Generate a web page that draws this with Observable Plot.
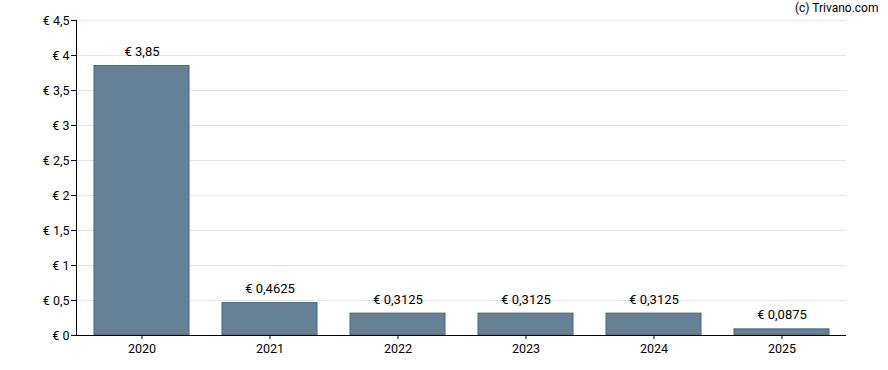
<!DOCTYPE html>
<html>
<head>
<meta charset="utf-8">
<script src="https://cdn.jsdelivr.net/npm/d3@7"></script>
<script src="https://cdn.jsdelivr.net/npm/@observablehq/plot@0.6"></script>
<style>
  html, body { margin: 0; padding: 0; background: #fff; }
  svg { font-family: Roboto, "Liberation Sans", Arial, sans-serif; }
</style>
</head>
<body>
<div id="chart"></div>
<script>
const years = ["2020", "2021", "2022", "2023", "2024", "2025"];
const values = [3.85, 0.4625, 0.3125, 0.3125, 0.3125, 0.0875];
const yTicks = [0, 0.5, 1, 1.5, 2, 2.5, 3, 3.5, 4, 4.5];

const data = years.map((y, i) => ({year: y, value: values[i]}));
const euro = d => "€ " + String(d).replace(".", ",");

const chart = Plot.plot({
  width: 888,
  height: 370,
  marginTop: 20,
  marginBottom: 35,
  marginLeft: 76,
  marginRight: 42,
  style: {fontSize: "12.5px", fontFamily: "Roboto, 'Liberation Sans', Arial, sans-serif", color: "#000"},
  x: {domain: years, paddingInner: 0.26, paddingOuter: 0.13, label: null},
  y: {domain: [0, 4.5], label: null},
  marks: [
    Plot.gridY(yTicks, {stroke: "#e6e6e6", strokeOpacity: 1}),
    Plot.barY(data, {x: "year", y: "value", fill: "#668195", stroke: "#4b647a", strokeWidth: 1}),
    Plot.text(data, {x: "year", y: "value", text: d => euro(d.value), lineAnchor: "bottom", dy: -10, fill: "#000", fontSize: 13}),
    Plot.axisY({ticks: yTicks, tickFormat: euro, tickSize: 5, tickPadding: 2, label: null, fontSize: 12.5}),
    Plot.axisX({tickSize: 4, tickPadding: 5, label: null, fontSize: 12.5}),
    Plot.ruleY([0], {stroke: "#000"}),
    Plot.frame({anchor: "left", stroke: "#000"}),
    Plot.text(["(c) Trivano.com"], {frameAnchor: "top-right", textAnchor: "end", lineAnchor: "middle", dx: 32, dy: -12, fill: "#000", fontSize: 12})
  ]
});
document.getElementById("chart").appendChild(chart);
</script>
</body>
</html>
